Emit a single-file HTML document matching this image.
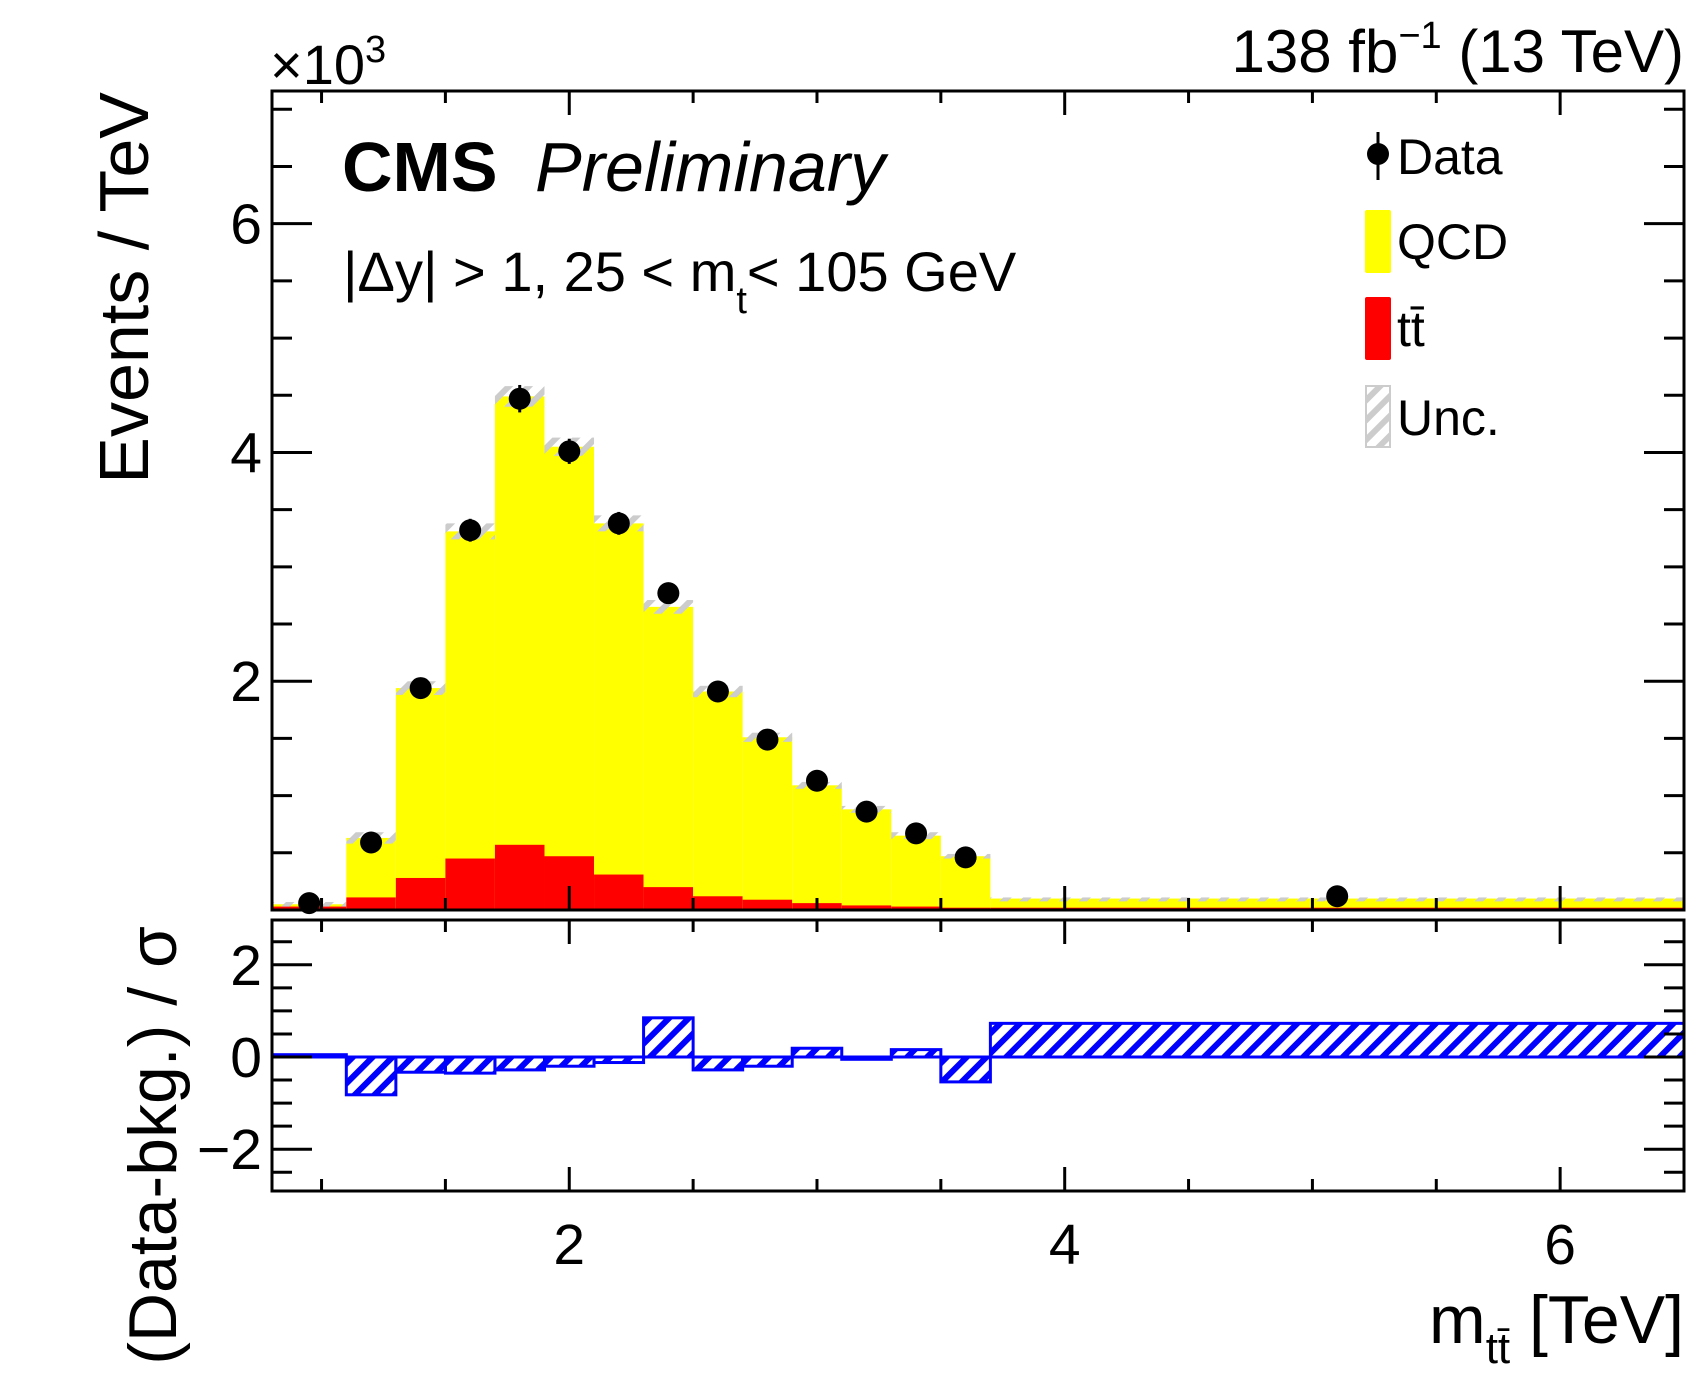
<!DOCTYPE html>
<html><head><meta charset="utf-8"><style>
html,body{margin:0;padding:0;background:#fff;}
svg{display:block;font-family:"Liberation Sans",Arial,sans-serif;}
</style></head><body>
<svg id="c" width="1701" height="1373" viewBox="0 0 1701 1373" xmlns="http://www.w3.org/2000/svg">
<defs>
<pattern id="uncHatch" patternUnits="userSpaceOnUse" width="14" height="14" patternTransform="rotate(45)">
<rect width="6" height="14" fill="#cccccc"/></pattern>
<pattern id="blueHatch" patternUnits="userSpaceOnUse" width="14" height="14" patternTransform="rotate(45)">
<rect width="6" height="14" fill="#0000ff"/></pattern>
</defs>
<g id="upper"></g>
<g id="lower"></g>
<g id="txt">
<text x="270" y="84" font-size="56">×10<tspan font-size="38" dy="-22">3</tspan></text>
<text x="1684" y="72" font-size="60" text-anchor="end">138 fb<tspan font-size="38" dy="-24">−1</tspan><tspan dy="24"> (13 TeV)</tspan></text>
<text x="342" y="191" font-size="70" font-weight="bold">CMS</text>
<text x="535" y="191" font-size="70" font-style="italic">Preliminary</text>
<text x="343" y="291" font-size="56">|Δy| &gt; 1, 25 &lt; m<tspan font-size="38" dy="22">t</tspan><tspan dy="-22">&lt; 105 GeV</tspan></text>
<text transform="translate(148,92) rotate(-90)" font-size="70" text-anchor="end">Events / TeV</text>
<text transform="translate(176,926) rotate(-90)" font-size="68" text-anchor="end">(Data-bkg.) / σ</text>
<text x="1684" y="1343" font-size="68" text-anchor="end">m<tspan font-size="44" dy="20">tt̄</tspan><tspan dy="-20"> [TeV]</tspan></text>
</g>
<g id="legend">
<g>
<line x1="1378" y1="132" x2="1378" y2="180" stroke="#000" stroke-width="3"/><circle cx="1378" cy="154" r="11" fill="#000"/>
<text x="1397" y="174" font-size="50">Data</text></g>
<g>
<rect x="1365" y="210" width="26" height="63" rx="2" fill="#ffff00"/><text x="1397" y="259" font-size="50">QCD</text></g>
<g>
<rect x="1365" y="297" width="26" height="63" rx="2" fill="#ff0000"/><text x="1397" y="346" font-size="50">tt̄</text></g>
<g>
<rect x="1366" y="386" width="24" height="61" fill="url(#uncHatch)" stroke="#ccc" stroke-width="2"/><text x="1397" y="435" font-size="50">Unc.</text></g>
</g>
</svg>
<script>
const binEdges=[0.8,1.1,1.3,1.5,1.7,1.9,2.1,2.3,2.5,2.7,2.9,3.1,3.3,3.5,3.7,6.5];
const totalBkg=[0.05,0.63,1.94,3.31,4.49,4.05,3.38,2.65,1.91,1.51,1.09,0.88,0.65,0.47,0.10];
const ttbar=[0.03,0.11,0.28,0.45,0.57,0.47,0.31,0.20,0.12,0.09,0.06,0.04,0.03,0.02,0.02];
const uncHalf=[0.02,0.05,0.06,0.07,0.09,0.08,0.07,0.06,0.05,0.04,0.03,0.03,0.03,0.02,0.01];
const dataX=[0.95,1.2,1.4,1.6,1.8,2.0,2.2,2.4,2.6,2.8,3.0,3.2,3.4,3.6,5.1];
const dataY=[0.06,0.59,1.94,3.32,4.47,4.01,3.38,2.77,1.91,1.49,1.13,0.86,0.67,0.46,0.12];
const dataErr=[0.02,0.05,0.08,0.1,0.12,0.11,0.1,0.09,0.08,0.07,0.06,0.05,0.05,0.04,0.01];
const pull=[0.05,-0.82,-0.33,-0.35,-0.28,-0.2,-0.12,0.85,-0.28,-0.2,0.19,-0.05,0.16,-0.54,0.73];
const yTicks=[0,2,4,6];
const rTicks=[-2,0,2];
const xTicks=[2,4,6];

const NS="http://www.w3.org/2000/svg";
const L=272,R=1684,UT=91,UB=910,LT=920,LB=1191;
const X=v=>L+(v-0.8)/5.7*(R-L);
const Y=v=>UB-v/7.16*(UB-UT);
const RY=v=>1057-v*46.1;
function mk(p,tag,a){const e=document.createElementNS(NS,tag);for(const k in a)e.setAttribute(k,a[k]);p.appendChild(e);return e;}
const up=document.getElementById('upper'),lo=document.getElementById('lower');

for(let i=0;i<totalBkg.length;i++){
  const x0=X(binEdges[i]),x1=X(binEdges[i+1]);
  const q=mk(up,'rect',{x:x0,y:Y(totalBkg[i]),width:x1-x0,height:UB-Y(totalBkg[i]),fill:'#ffff00'});
  
  
  const t=mk(up,'rect',{x:x0,y:Y(ttbar[i]),width:x1-x0,height:UB-Y(ttbar[i]),fill:'#ff0000'});
  
  
  const u=mk(up,'rect',{x:x0,y:Y(totalBkg[i]+uncHalf[i]),width:x1-x0,height:Math.max(4,Y(totalBkg[i]-uncHalf[i])-Y(totalBkg[i]+uncHalf[i])),fill:'url(#uncHatch)'});
  
  
  const v=pull[i];
  const r=mk(lo,'rect',{x:x0,y:Math.min(RY(v),RY(0)),width:x1-x0,height:Math.abs(RY(v)-RY(0)),fill:'url(#blueHatch)',stroke:'#0000ff','stroke-width':3});
  
  
}
for(let i=0;i<dataX.length;i++){
  const g=mk(up,'g',{});
  
  
  mk(g,'line',{x1:X(dataX[i]),x2:X(dataX[i]),y1:Y(dataY[i]+dataErr[i]),y2:Math.min(UB,Y(dataY[i]-dataErr[i])),stroke:'#000','stroke-width':3});
  mk(g,'circle',{cx:X(dataX[i]),cy:Y(dataY[i]),r:11,fill:'#000'});
}
mk(up,'rect',{x:L,y:UT,width:R-L,height:UB-UT,fill:'none',stroke:'#000','stroke-width':3});
mk(lo,'rect',{x:L,y:LT,width:R-L,height:LB-LT,fill:'none',stroke:'#000','stroke-width':3});
for(let v=0;v<=7;v+=0.5){const maj=v%2===0;const y=Y(v);const len=maj?40:20;
  mk(up,'line',{x1:L,x2:L+len,y1:y,y2:y,stroke:'#000','stroke-width':3});
  mk(up,'line',{x1:R,x2:R-len,y1:y,y2:y,stroke:'#000','stroke-width':3});}
yTicks.forEach(v=>{const t=mk(up,'text',{x:262,y:Y(v)+20,'font-size':57,'text-anchor':'end'});t.textContent=v===0?'':v;
  
  });
for(let v=-2.5;v<=2.5;v+=0.5){const maj=v%2===0;const y=RY(v);const len=maj?40:20;
  mk(lo,'line',{x1:L,x2:L+len,y1:y,y2:y,stroke:'#000','stroke-width':3});
  mk(lo,'line',{x1:R,x2:R-len,y1:y,y2:y,stroke:'#000','stroke-width':3});}
rTicks.forEach(v=>{const t=mk(lo,'text',{x:262,y:RY(v)+20,'font-size':57,'text-anchor':'end'});t.textContent=v<0?'−'+(-v):v;
  
  });
for(let v=1;v<=6.5;v+=0.5){const maj=v%2===0;const x=X(v);const len=maj?24:12;
  [[UT,1],[UB,-1],[LT,1],[LB,-1]].forEach(([y,d])=>mk(up,'line',{x1:x,x2:x,y1:y,y2:y+d*len,stroke:'#000','stroke-width':3}));}
xTicks.forEach(v=>{const t=mk(lo,'text',{x:X(v),y:1264,'font-size':57,'text-anchor':'middle'});t.textContent=v;
  
  });
</script>
</body></html>
